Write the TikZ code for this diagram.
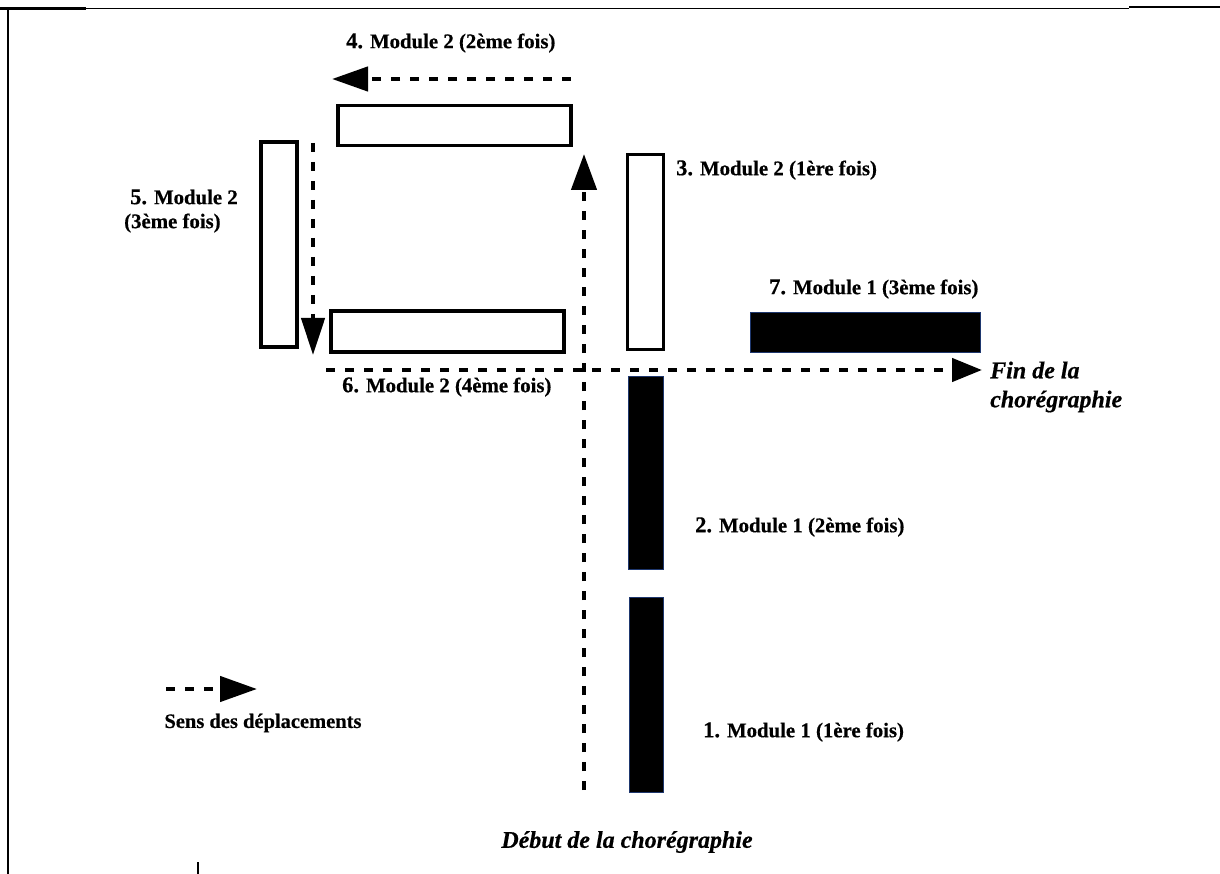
\documentclass[tikz,border=0pt]{standalone}
\usepackage{fontspec}
\setmainfont{Liberation Serif}
\newfontface\heavy{Liberation Serif Bold}[FakeBold=0.5]
\newfontface\heavyit{Liberation Serif Bold Italic}[FakeBold=0.5]
\usetikzlibrary{arrows.meta}
\newcommand{\lblf}{\fontsize{20.8}{24}\selectfont\heavy}
\newcommand{\numf}{\fontsize{22.5}{24}\selectfont\heavy}
\newcommand{\itf}{\fontsize{24}{29}\selectfont\heavyit}
\definecolor{edgeblue}{RGB}{30,55,110}
\begin{document}
\begin{tikzpicture}[x=1pt,y=-1pt,
  whitebox/.style={draw=black,fill=white,line width=3.6pt,rectangle,inner sep=0pt,outer sep=0pt},
  blackbox/.style={draw=edgeblue,fill=black,line width=1pt,rectangle,inner sep=0pt,outer sep=0pt},
  lbl/.style={inner sep=0pt,font=\lblf},
  move/.style={line width=4.5pt,dash pattern=on 9pt off 10pt},
  frameline/.style={line width=2pt,black}]
\useasboundingbox (0,0) rectangle (1220,874);
% frame
\draw[line width=1.5pt] (7,8.5) -- (1129,8.5);
\draw[frameline,line width=2.5pt] (0,8.5) -- (86,8.5);
\draw[frameline,line width=2.5pt] (1129,7) -- (1220,7);
\draw[frameline,line width=2.5pt] (8,8) -- (8,874);
\draw[line width=2.5pt] (198,862) -- (198,874);
% rectangles
\node[whitebox,minimum width=233pt,minimum height=40pt] (r4) at (454.5,125.5) {};
\node[whitebox,minimum width=36pt,minimum height=205pt] (r5) at (279,244.5) {};
\node[whitebox,minimum width=233pt,minimum height=41pt] (r6) at (447.5,331.5) {};
\node[whitebox,minimum width=36pt,minimum height=195pt] (r3) at (645.5,252) {};
\node[blackbox,minimum width=230pt,minimum height=39pt] (r7) at (865.5,332.5) {};
\node[blackbox,minimum width=35pt,minimum height=193pt] (r2) at (645.5,473) {};
\node[blackbox,minimum width=34pt,minimum height=195pt] (r1) at (646,694.5) {};
% path coordinates
\coordinate (s3) at (584,790);
\coordinate (e3) at (584,154);
\coordinate (s4) at (571,79);
\coordinate (e4) at (332,79);
\coordinate (s5) at (313,143);
\coordinate (e5) at (313,355);
\coordinate (s6) at (326,370);
\coordinate (e6) at (982,370);
\coordinate (sl) at (166,689);
\coordinate (el) at (257,689);
% moves
\draw[move,-{Triangle[length=36pt,width=25pt]}] (s3) -- (e3);
\draw[move,-{Triangle[length=36pt,width=24pt]}] (s4) -- (e4);
\draw[move,-{Triangle[length=37pt,width=23pt]}] (s5) -- (e5);
\draw[move,-{Triangle[length=30pt,width=23pt]}] (s6) -- (e6);
\draw[move,-{Triangle[length=37pt,width=25pt]}] (sl) -- (el);
% labels
\node[lbl,anchor=west] (l4) at (346,43) {{\numf 4.} Module 2 (2ème fois)};
\node[lbl,anchor=west,align=left,font=\lblf] (l5) at (124,211) {\hspace*{6pt}{\numf 5.} Module 2\\(3ème fois)};
\node[lbl,anchor=west] (l3) at (676,170) {{\numf 3.} Module 2 (1ère fois)};
\node[lbl,anchor=west] (l7) at (769,289) {{\numf 7.} Module 1 (3ème fois)};
\node[lbl,anchor=west] (l6) at (342,387) {{\numf 6.} Module 2 (4ème fois)};
\node[lbl,anchor=west] (l2) at (695,527) {{\numf 2.} Module 1 (2ème fois)};
\node[lbl,anchor=west] (l1) at (703,732) {{\numf 1.} Module 1 (1ère fois)};
\node[inner sep=0pt,anchor=west,align=left,font=\itf] (fin) at (990,387) {Fin de la\\chorégraphie};
\node[inner sep=0pt,font=\itf] (debut) at (627,842) {Début de la chorégraphie};
\node[inner sep=0pt,font=\fontsize{20.5}{24}\selectfont\heavy] (sens) at (263,723) {Sens des déplacements};
\end{tikzpicture}
\end{document}
